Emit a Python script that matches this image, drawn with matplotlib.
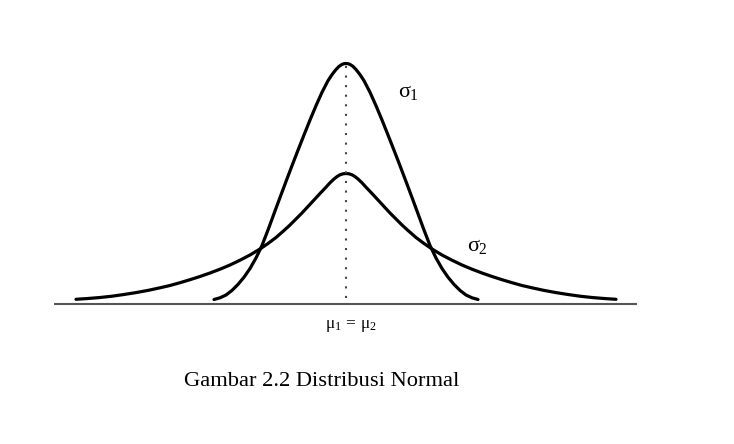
import matplotlib
matplotlib.use('Agg')
import numpy as np
import matplotlib.pyplot as plt

plt.rcParams['font.family'] = ['Liberation Serif', 'DejaVu Serif']
plt.rcParams['mathtext.fontset'] = 'custom'
plt.rcParams['mathtext.rm'] = 'Liberation Serif'
plt.rcParams['mathtext.it'] = 'Liberation Serif'
plt.rcParams['mathtext.bf'] = 'Liberation Serif:bold'

# left half of each curve
# (offset from the mean, height above the axis); right half is the mirror
narrow_off = [-132, -126, -120, -114, -108, -102, -96, -90, -84, -78, -72, -66,
              -60, -54, -48, -42, -36, -30, -24, -18, -14, -10, -7, -4, -2, 0]
narrow_h = [4.5, 6.2, 9.0, 13.6, 19.6, 26.8, 35.5, 46.0, 58.5, 74.0, 90.3, 106.5,
            122.5, 138.3, 153.8, 169.0, 184.0, 198.3, 211.7, 223.3, 229.4, 234.5,
            237.6, 239.6, 240.3, 240.5]
wide_off = [-270, -258, -246, -234, -222, -210, -198, -186, -176, -166, -156, -146,
            -136, -126, -116, -106, -96, -86, -78, -70, -62, -56, -50, -44, -38,
            -32, -26, -20, -16, -12, -9, -6, -3, 0]
wide_h = [4.7, 5.5, 6.5, 7.8, 9.5, 11.4, 13.6, 16.2, 18.5, 21.3, 24.3, 27.5,
          31.0, 34.8, 39.0, 43.8, 49.0, 55.0, 60.5, 66.5, 73.5, 79.0, 85.0, 91.0, 97.5,
          104.0, 110.5, 116.8, 121.2, 125.0, 127.4, 129.2, 130.2, 130.5]

mu = 0
axis_left, axis_right = -292, 291
caption = 'Gambar 2.2 Distribusi Normal'


def full_curve(off, h):
    off = np.array(off, dtype=float)
    h = np.array(h, dtype=float)
    x = np.concatenate([off, -off[-2::-1]]) + mu
    y = np.concatenate([h, h[-2::-1]])
    return x, y


fig = plt.figure(figsize=(7.34, 4.44), dpi=100)
ax = fig.add_axes([0, 0, 1, 1])
ax.set_xlim(-346, 388)
ax.set_ylim(-140, 304)
ax.axis('off')

x1, y1 = full_curve(narrow_off, narrow_h)
x2, y2 = full_curve(wide_off, wide_h)
ax.plot(x1, y1, color='black', lw=2.3, solid_capstyle='round', solid_joinstyle='round')
ax.plot(x2, y2, color='black', lw=2.3, solid_capstyle='round', solid_joinstyle='round')

ax.hlines(0, axis_left, axis_right, color='#555555', lw=1.5)
ax.vlines(mu, 6, max(narrow_h), color='#444444', lw=1.5, linestyles=(0, (1, 3.6)))

ax.text(62, 211, r'$\sigma_1$', fontsize=16, ha='center', va='center')
ax.text(131, 58, r'$\sigma_2$', fontsize=16, ha='center', va='center')
ax.text(mu + 5, -22, r'$\mu_1\,=\,\mu_2$', fontsize=12.5, ha='center', va='center')
ax.text(-24.5, -77, caption, fontsize=16.2, ha='center', va='center')

fig.savefig('out.png', dpi=100)
